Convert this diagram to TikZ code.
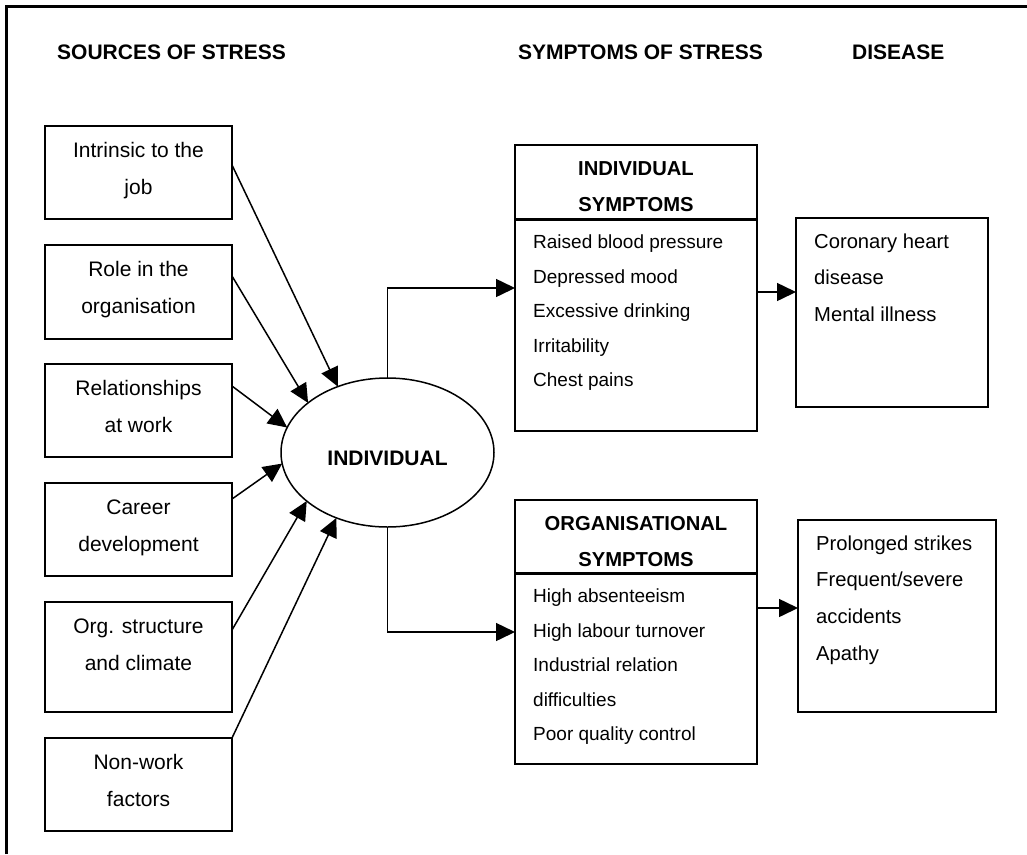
\documentclass[tikz,border=0pt]{standalone}
\usepackage{fontspec}
\setmainfont{Liberation Sans}
\usetikzlibrary{shapes.geometric,arrows.meta}
\newcommand{\fls}{\rule{0pt}{16pt}}
\begin{document}
\begin{tikzpicture}[x=1pt,y=-1pt,
  box/.style={draw, line width=1.8pt, inner sep=0pt, outer sep=0pt, anchor=north west},
  srctxt/.style={inner sep=0pt, anchor=north, align=center, font=\fontsize{21}{37}\selectfont},
  hdtxt/.style={inner sep=0pt, anchor=north, align=center, font=\fontsize{20.2}{36}\selectfont\bfseries},
  listtxt/.style={inner sep=0pt, anchor=north west, align=left, font=\fontsize{19}{34.6}\selectfont},
  distxt/.style={inner sep=0pt, anchor=north west, align=left, font=\fontsize{20.2}{36.4}\selectfont},
  title/.style={inner sep=0pt, anchor=base west, font=\fontsize{21}{25}\selectfont\bfseries},
  arr/.style={line width=1.5pt, -{Triangle[length=19pt,width=18pt]}},
  divider/.style={line width=3pt},
  frame/.style={line width=3pt, line join=miter}
]
\useasboundingbox (0,0) rectangle (1027,854);
\draw[frame] (6.5,854) -- (6.5,6) -- (1027,6);

% titles
\node[title] (h1) at (57,59.5) {SOURCES OF STRESS};
\node[title] (h2) at (518,59.5) {SYMPTOMS OF STRESS};
\node[title] (h3) at (852,59.5) {DISEASE};

% source boxes
\node[box, minimum width=187pt, minimum height=93pt] (b1) at (45,126) {};
\node[box, minimum width=187pt, minimum height=94pt] (b2) at (45,245) {};
\node[box, minimum width=187pt, minimum height=93pt] (b3) at (45,364) {};
\node[box, minimum width=187pt, minimum height=93pt] (b4) at (45,483) {};
\node[box, minimum width=187pt, minimum height=110pt] (b5) at (45,602) {};
\node[box, minimum width=187pt, minimum height=93pt] (b6) at (45,738) {};

\node[srctxt] (t1) at ([yshift=-15pt]b1.north) {\fls Intrinsic to the\\job};
\node[srctxt] (t2) at ([yshift=-15pt]b2.north) {\fls Role in the\\organisation};
\node[srctxt] (t3) at ([yshift=-15pt]b3.north) {\fls Relationships\\at work};
\node[srctxt] (t4) at ([yshift=-15pt]b4.north) {\fls Career\\development};
\node[srctxt] (t5) at ([yshift=-15pt]b5.north) {\fls Org. structure\\and climate};
\node[srctxt] (t6) at ([yshift=-15pt]b6.north) {\fls Non-work\\factors};

% individual
\node[ellipse, draw, line width=1.5pt, minimum width=213pt, minimum height=149pt, inner sep=0pt, outer sep=0pt] (ind) at (387.5,452.5) {};
\node[inner sep=0pt, anchor=base, font=\fontsize{21}{25}\selectfont\bfseries] (indt) at ([yshift=-13pt]ind.center) {INDIVIDUAL};

% symptom boxes
\node[box, minimum width=242pt, minimum height=286pt] (s1) at (515,145) {};
\draw[divider] ([yshift=-74pt]s1.north west) -- ([yshift=-74pt]s1.north east);
\node[hdtxt] (s1h) at (636,159.5) {\fls INDIVIDUAL\\SYMPTOMS};
\node[listtxt] (s1l) at (533,232.3) {\fls Raised blood pressure\\Depressed mood\\Excessive drinking\\Irritability\\Chest pains};

\node[box, minimum width=242pt, minimum height=264pt] (o1) at (515,500) {};
\draw[divider] ([yshift=-73pt]o1.north west) -- ([yshift=-73pt]o1.north east);
\node[hdtxt, font=\fontsize{20.2}{36.7}\selectfont\bfseries] (o1h) at (636,514) {\fls ORGANISATIONAL\\SYMPTOMS};
\node[listtxt] (o1l) at (533,586.3) {\fls High absenteeism\\High labour turnover\\Industrial relation\\difficulties\\Poor quality control};

% disease boxes
\node[box, minimum width=192pt, minimum height=189pt] (d1) at (796,218) {};
\node[distxt] (d1t) at (814,232) {\fls Coronary heart\\disease\\Mental illness};
\node[box, minimum width=198pt, minimum height=192pt] (d2) at (798,520) {};
\node[distxt, font=\fontsize{20.2}{36.7}\selectfont] (d2t) at (816,534) {\fls Prolonged strikes\\Frequent/severe\\accidents\\Apathy};

% source arrows
\draw[arr] ([yshift=-39pt]b1.north east) -- (ind.127);
\draw[arr] ([yshift=-31pt]b2.north east) -- (ind.148.6);
\draw[arr] ([yshift=-22pt]b3.north east) -- (ind.166.4);
\draw[arr] ([yshift=-16pt]b4.north east) -- (ind.186.8);
\draw[arr] ([yshift=-28pt]b5.north east) -- (ind.211.9);
\draw[arr] (b6.north east) -- (ind.232.8);

% outgoing arrows
\draw[arr] (ind.north) |- ([yshift=-143pt]s1.north west);
\draw[arr] (ind.south) |- ([yshift=-132pt]o1.north west);
\draw[arr] ([yshift=-147pt]s1.north east) -- ([yshift=-147pt]s1.north east -| d1.west);
\draw[arr] ([yshift=-108pt]o1.north east) -- ([yshift=-108pt]o1.north east -| d2.west);
\end{tikzpicture}
\end{document}
